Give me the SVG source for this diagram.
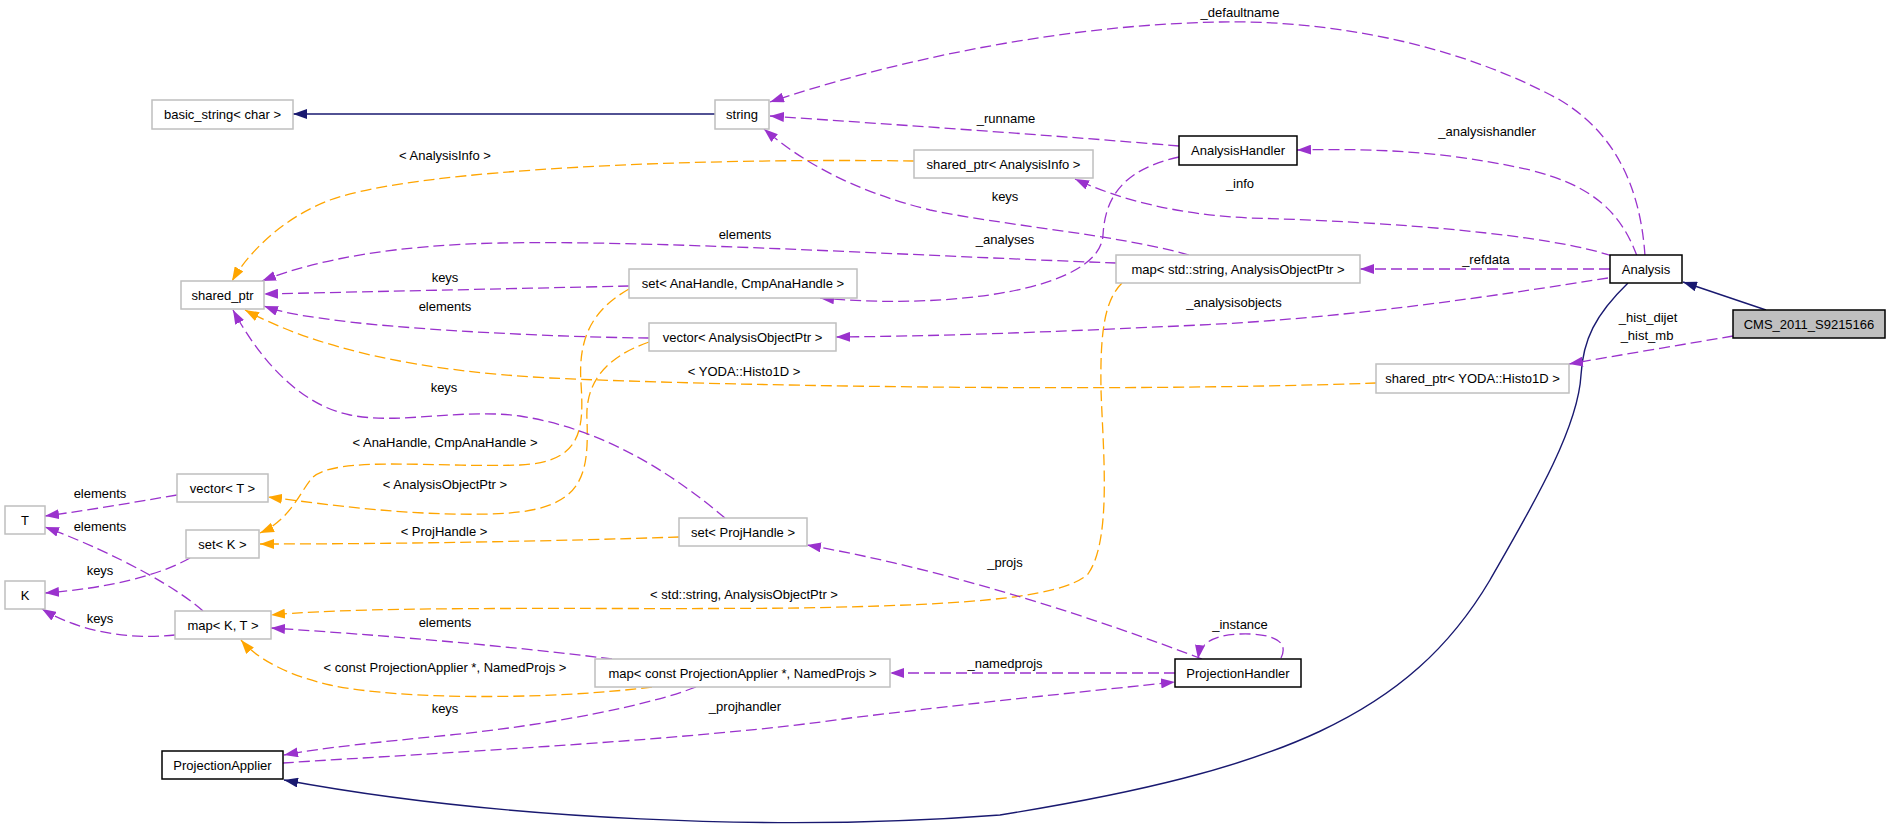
<svg xmlns="http://www.w3.org/2000/svg" width="1891" height="835" viewBox="0 0 1891 835">
<style>
  .bg { fill: #ffffff; }
  .n rect { fill: #ffffff; stroke: #bfbfbf; stroke-width: 1.5; }
  .d rect { fill: #ffffff; stroke: #000000; stroke-width: 1.5; }
  .m rect { fill: #bfbfbf; stroke: #000000; stroke-width: 1.5; }
  text { font-family: "Liberation Sans", Arial, sans-serif; font-size: 13px; fill: #000000; }
  .n text, .d text, .m text { text-anchor: middle; }
  .lbl { text-anchor: middle; }
  .use { fill: none; stroke: #9a32cd; stroke-width: 1.3; stroke-dasharray: 11,5; marker-end: url(#ap); }
  .tpl { fill: none; stroke: #ffa500; stroke-width: 1.3; stroke-dasharray: 11,5; marker-end: url(#ao); }
  .inh { fill: none; stroke: #191970; stroke-width: 1.4; marker-end: url(#ab); }
</style>
<defs>
  <marker id="ap" markerUnits="userSpaceOnUse" markerWidth="14" markerHeight="10" viewBox="0 0 14 10" refX="14" refY="5" orient="auto"><path d="M0,0 L14,5 L0,10 z" fill="#9a32cd"/></marker>
  <marker id="ao" markerUnits="userSpaceOnUse" markerWidth="14" markerHeight="10" viewBox="0 0 14 10" refX="14" refY="5" orient="auto"><path d="M0,0 L14,5 L0,10 z" fill="#ffa500"/></marker>
  <marker id="ab" markerUnits="userSpaceOnUse" markerWidth="14" markerHeight="10" viewBox="0 0 14 10" refX="14" refY="5" orient="auto"><path d="M0,0 L14,5 L0,10 z" fill="#191970"/></marker>
</defs>
<rect class="bg" x="0" y="0" width="1891" height="835"/>

<g id="edges">
  <path class="inh" d="M715,114 L293,114"/>
  <path class="inh" d="M1766,310 L1683,282"/>
  <path class="inh" d="M1628,283 C1595,315 1583,340 1581,375 C1578,430 1530,510 1490,580 C1410,715 1280,770 1000,815 C780,832 500,820 284,780"/>

  <path class="tpl" d="M914,161 C700,158 420,168 330,200 C285,217 250,250 232,281"/>
  <path class="tpl" d="M1376,383 C1100,393 700,385 550,378 C420,371 320,350 245,310"/>
  <path class="tpl" d="M629,289 C592,310 578,338 581,383 C584,430 582,462 520,465 C440,468 335,455 312,478 C300,492 290,520 260,533"/>
  <path class="tpl" d="M649,342 C603,358 585,385 587,420 C589,480 582,512 490,514 C410,516 330,505 268,497"/>
  <path class="tpl" d="M679,537 C560,541 400,544 260,544"/>
  <path class="tpl" d="M1122,283 C1105,300 1100,330 1101,390 C1103,450 1112,540 1088,574 C1060,600 950,605 800,608 C600,610 380,605 271,615"/>
  <path class="tpl" d="M652,687 C550,700 400,700 330,685 C290,676 258,660 241,640"/>

  <path class="use" d="M1645,256 C1640,180 1610,130 1560,100 C1450,40 1320,20 1220,22 C1050,25 880,65 770,102"/>
  <path class="use" d="M1179,146 C1050,135 900,125 770,116"/>
  <path class="use" d="M1189,255 C1120,235 1000,225 930,210 C850,190 800,160 764,129"/>
  <path class="use" d="M1179,157 C1120,170 1105,200 1103,235 C1100,290 950,310 820,298"/>
  <path class="use" d="M1637,256 C1620,210 1590,185 1530,170 C1450,152 1380,148 1297,150"/>
  <path class="use" d="M1612,256 C1550,235 1400,222 1250,218 C1180,215 1120,200 1075,179"/>
  <path class="use" d="M1610,269 L1360,269"/>
  <path class="use" d="M1608,278 C1500,295 1350,318 1200,325 C1050,332 950,336 836,337"/>
  <path class="use" d="M1733,336 C1680,345 1620,355 1569,364"/>
  <path class="use" d="M1116,263 C900,255 650,240 500,243 C400,245 320,258 262,281"/>
  <path class="use" d="M629,286 C500,289 350,292 264,294"/>
  <path class="use" d="M649,338 C550,337 420,330 350,322 C300,316 280,312 264,306"/>
  <path class="use" d="M725,518 C680,480 610,430 520,416 C460,408 400,425 350,415 C300,405 260,360 233,310"/>
  <path class="use" d="M177,495 C130,503 90,510 45,516"/>
  <path class="use" d="M203,611 C180,590 120,555 45,527"/>
  <path class="use" d="M190,558 C160,575 110,588 45,593"/>
  <path class="use" d="M175,635 C130,640 80,632 42,609"/>
  <path class="use" d="M612,659 C500,645 380,635 271,628"/>
  <path class="use" d="M696,687 C650,705 550,725 450,735 C380,742 320,748 284,755"/>
  <path class="use" d="M283,763 C450,752 700,740 850,718 C1000,700 1100,690 1175,682"/>
  <path class="use" d="M1202,659 C1100,620 950,570 807,545"/>
  <path class="use" d="M1175,673 L890,673"/>
  <path class="use" d="M1281,658 C1290,640 1270,633 1240,634 C1210,635 1200,645 1198,659"/>

  <text class="lbl" x="1240" y="17">_defaultname</text>
  <text class="lbl" x="1006" y="123">_runname</text>
  <text class="lbl" x="1487" y="136">_analysishandler</text>
  <text class="lbl" x="1240" y="188">_info</text>
  <text class="lbl" x="1005" y="201">keys</text>
  <text class="lbl" x="1005" y="244">_analyses</text>
  <text class="lbl" x="745" y="239">elements</text>
  <text class="lbl" x="1486" y="264">_refdata</text>
  <text class="lbl" x="1234" y="307">_analysisobjects</text>
  <text class="lbl" x="1648" y="322">_hist_dijet</text>
  <text class="lbl" x="1647" y="340">_hist_mb</text>
  <text class="lbl" x="445" y="160">&lt; AnalysisInfo &gt;</text>
  <text class="lbl" x="445" y="282">keys</text>
  <text class="lbl" x="445" y="311">elements</text>
  <text class="lbl" x="744" y="376">&lt; YODA::Histo1D &gt;</text>
  <text class="lbl" x="444" y="392">keys</text>
  <text class="lbl" x="445" y="447">&lt; AnaHandle, CmpAnaHandle &gt;</text>
  <text class="lbl" x="445" y="489">&lt; AnalysisObjectPtr &gt;</text>
  <text class="lbl" x="444" y="536">&lt; ProjHandle &gt;</text>
  <text class="lbl" x="100" y="498">elements</text>
  <text class="lbl" x="100" y="531">elements</text>
  <text class="lbl" x="100" y="575">keys</text>
  <text class="lbl" x="100" y="623">keys</text>
  <text class="lbl" x="744" y="599">&lt; std::string, AnalysisObjectPtr &gt;</text>
  <text class="lbl" x="1005" y="567">_projs</text>
  <text class="lbl" x="445" y="627">elements</text>
  <text class="lbl" x="445" y="672">&lt; const ProjectionApplier *, NamedProjs &gt;</text>
  <text class="lbl" x="1240" y="629">_instance</text>
  <text class="lbl" x="1005" y="668">_namedprojs</text>
  <text class="lbl" x="445" y="713">keys</text>
  <text class="lbl" x="745" y="711">_projhandler</text>
</g>

<g id="node-CMS_2011_S9215166" class="m"><rect x="1733" y="310" width="152" height="28"/><text x="1809" y="328.5">CMS_2011_S9215166</text></g>
<g id="node-Analysis" class="d"><rect x="1610" y="255" width="72" height="28"/><text x="1646" y="273.5">Analysis</text></g>
<g id="node-basic_string" class="n"><rect x="152" y="100" width="141" height="29"/><text x="222.5" y="119">basic_string&lt; char &gt;</text></g>
<g id="node-string" class="n"><rect x="715" y="100" width="54" height="29"/><text x="742" y="119">string</text></g>
<g id="node-AnalysisHandler" class="d"><rect x="1179" y="136" width="118" height="29"/><text x="1238" y="155">AnalysisHandler</text></g>
<g id="node-shared_ptr_AnalysisInfo" class="n"><rect x="914" y="150" width="179" height="28"/><text x="1003.5" y="168.5">shared_ptr&lt; AnalysisInfo &gt;</text></g>
<g id="node-shared_ptr" class="n"><rect x="181" y="281" width="83" height="28"/><text x="222.5" y="299.5">shared_ptr</text></g>
<g id="node-map_string_AOP" class="n"><rect x="1116" y="255" width="244" height="28"/><text x="1238" y="273.5">map&lt; std::string, AnalysisObjectPtr &gt;</text></g>
<g id="node-set_AnaHandle" class="n"><rect x="629" y="269" width="228" height="29"/><text x="743" y="288">set&lt; AnaHandle, CmpAnaHandle &gt;</text></g>
<g id="node-vector_AOP" class="n"><rect x="649" y="323" width="187" height="28"/><text x="742.5" y="341.5">vector&lt; AnalysisObjectPtr &gt;</text></g>
<g id="node-shared_ptr_Histo1D" class="n"><rect x="1376" y="364" width="193" height="29"/><text x="1472.5" y="383">shared_ptr&lt; YODA::Histo1D &gt;</text></g>
<g id="node-vector_T" class="n"><rect x="177" y="474" width="91" height="28"/><text x="222.5" y="492.5">vector&lt; T &gt;</text></g>
<g id="node-T" class="n"><rect x="5" y="506" width="40" height="28"/><text x="25" y="524.5">T</text></g>
<g id="node-set_K" class="n"><rect x="186" y="530" width="73" height="28"/><text x="222.5" y="548.5">set&lt; K &gt;</text></g>
<g id="node-K" class="n"><rect x="5" y="581" width="40" height="28"/><text x="25" y="599.5">K</text></g>
<g id="node-set_ProjHandle" class="n"><rect x="679" y="518" width="128" height="28"/><text x="743" y="536.5">set&lt; ProjHandle &gt;</text></g>
<g id="node-map_K_T" class="n"><rect x="175" y="611" width="96" height="28"/><text x="223" y="629.5">map&lt; K, T &gt;</text></g>
<g id="node-map_PA_NamedProjs" class="n"><rect x="595" y="659" width="295" height="28"/><text x="742.5" y="677.5">map&lt; const ProjectionApplier *, NamedProjs &gt;</text></g>
<g id="node-ProjectionHandler" class="d"><rect x="1175" y="659" width="126" height="28"/><text x="1238" y="677.5">ProjectionHandler</text></g>
<g id="node-ProjectionApplier" class="d"><rect x="162" y="751" width="121" height="28"/><text x="222.5" y="769.5">ProjectionApplier</text></g>
</svg>
